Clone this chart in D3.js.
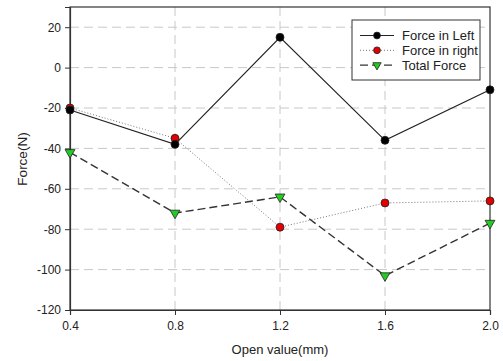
<!DOCTYPE html>
<html>
<head>
<meta charset="utf-8">
<script src="https://cdn.jsdelivr.net/npm/d3@7"></script>
<style>
  body { margin: 0; background: #fff; }
  text { font-family: "Liberation Sans", Arial, sans-serif; fill: #222; }
</style>
</head>
<body>
<div id="chart-area"></div>
<script>
const openValues = [0.4, 0.8, 1.2, 1.6, 2.0]
const forceLeft = [-21, -38, 15, -36, -11]
const forceRight = [-20, -35, -79, -67, -66]
const totalForce = [-42, -72, -64, -103, -77]
const yTicks = [-120, -100, -80, -60, -40, -20, 0, 20]

const MARGIN = { LEFT: 70, RIGHT: 13, TOP: 7, BOTTOM: 51 }
const WIDTH = 503 - MARGIN.LEFT - MARGIN.RIGHT
const HEIGHT = 361 - MARGIN.TOP - MARGIN.BOTTOM

const svg = d3.select("#chart-area").append("svg")
    .attr("width", 503)
    .attr("height", 361)

const g = svg.append("g")
    .attr("transform", `translate(${MARGIN.LEFT}, ${MARGIN.TOP})`)

// Scales
const x = d3.scaleLinear().range([0, WIDTH]).domain([0.4, 2.0])
const y = d3.scaleLinear().range([HEIGHT, 0]).domain([-120, 30])

// Grid
g.selectAll(".hgrid").data(yTicks.filter(v => v > -120))
  .enter().append("line")
    .attr("x1", 0).attr("x2", WIDTH)
    .attr("y1", d => y(d)).attr("y2", d => y(d))
    .attr("stroke", "#c8c8c8").attr("stroke-width", 1)
    .attr("stroke-dasharray", "9,5")
g.selectAll(".vgrid").data(openValues.slice(1, -1))
  .enter().append("line")
    .attr("y1", 0).attr("y2", HEIGHT)
    .attr("x1", d => x(d)).attr("x2", d => x(d))
    .attr("stroke", "#c8c8c8").attr("stroke-width", 1)
    .attr("stroke-dasharray", "9,5")

// Frame
g.append("rect")
    .attr("width", WIDTH).attr("height", HEIGHT)
    .attr("fill", "none").attr("stroke", "#333").attr("stroke-width", 1.2)

// Axes
const xAxis = g.append("g")
    .attr("transform", `translate(0, ${HEIGHT})`)
    .call(d3.axisBottom(x).tickValues(openValues).tickFormat(d3.format(".1f")).tickSizeOuter(0).tickSize(5).tickPadding(6))
const yAxis = g.append("g")
    .call(d3.axisLeft(y).tickValues(yTicks).tickFormat(d => String(d)).tickSizeOuter(0).tickSize(5).tickPadding(4))
for (const ax of [xAxis, yAxis]) {
  ax.select(".domain").attr("stroke", "#333").attr("stroke-width", 1.2)
  ax.selectAll(".tick line").attr("stroke", "#333")
  ax.selectAll(".tick text").attr("font-size", "12px").attr("fill", "#222")
    .style("font-family", '"Liberation Sans", Arial, sans-serif')
}

// Labels
g.append("text")
    .attr("x", WIDTH / 2).attr("y", HEIGHT + 44)
    .attr("font-size", "13px").attr("text-anchor", "middle")
    .text("Open value(mm)")
g.append("text")
    .attr("transform", "rotate(-90)")
    .attr("x", -152).attr("y", -43)
    .attr("font-size", "13.5px").attr("text-anchor", "middle")
    .text("Force(N)")

const series = [
  { name: "Force in Left", values: forceLeft, dash: null, width: 1.2, stroke: "#222", symbol: "circle", fill: "#000" },
  { name: "Force in right", values: forceRight, dash: "1,2", width: 1, stroke: "#777", symbol: "circle", fill: "#e00000" },
  { name: "Total Force", values: totalForce, dash: "8,4", width: 1.4, stroke: "#333", symbol: "triangle", fill: "#22cc22" }
]

const line = d3.line().x(d => x(d[0])).y(d => y(d[1]))

function drawSymbol(sel, s, cx, cy, k) {
  if (s.symbol === "circle") {
    sel.append("circle").attr("cx", cx).attr("cy", cy).attr("r", 4 * k)
      .attr("fill", s.fill).attr("stroke", "#222").attr("stroke-width", 0.8)
  } else {
    sel.append("path")
      .attr("d", d3.symbol().type(d3.symbolTriangle).size(42 * k * k)())
      .attr("transform", `translate(${cx}, ${cy}) rotate(180)`)
      .attr("fill", s.fill).attr("stroke", "#222").attr("stroke-width", 0.8)
  }
}

series.forEach(s => {
  const pts = openValues.map((v, i) => [v, s.values[i]])
  g.append("path").datum(pts)
    .attr("d", line).attr("fill", "none")
    .attr("stroke", s.stroke).attr("stroke-width", s.width)
    .attr("stroke-dasharray", s.dash)
})
series.slice().reverse().forEach(s => {
  openValues.forEach((v, i) => drawSymbol(g, s, x(v), y(s.values[i]), 1))
})

// Legend
const legend = svg.append("g").attr("transform", "translate(352, 20)")
legend.append("rect").attr("width", 128).attr("height", 60)
  .attr("fill", "#fff").attr("stroke", "#333").attr("stroke-width", 1)
series.forEach((s, i) => {
  const ly = 15.5 + i * 14.8
  legend.append("line").attr("x1", 8).attr("x2", 42).attr("y1", ly).attr("y2", ly)
    .attr("stroke", s.stroke).attr("stroke-width", s.width).attr("stroke-dasharray", s.dash)
  drawSymbol(legend, s, 25, ly, 0.85)
  legend.append("text").attr("x", 50).attr("y", ly + 4.5)
    .attr("font-size", "13px").text(s.name)
})
</script>
</body>
</html>
